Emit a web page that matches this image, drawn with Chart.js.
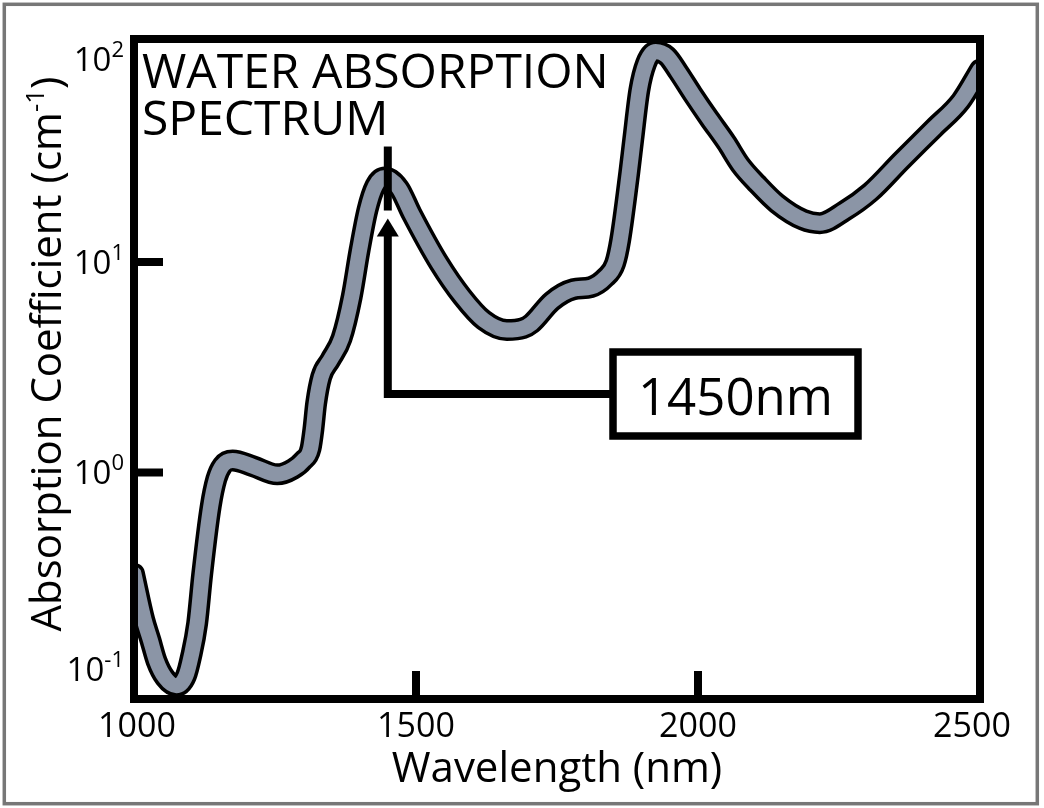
<!DOCTYPE html>
<html>
<head>
<meta charset="utf-8">
<script src="https://cdn.jsdelivr.net/npm/chart.js@4/dist/chart.umd.min.js"></script>
<style>
  html, body { margin: 0; padding: 0; background: #fff; }
  #wrap { width: 1044px; height: 808px; }
</style>
</head>
<body>
<div id="wrap"><canvas id="grafica" width="1044" height="808"></canvas></div>
<script>
// datos (nm, cm^-1)
const WAVELENGTH = [1000, 1018, 1029, 1040, 1055, 1075, 1092, 1101, 1112, 1121, 1136, 1146, 1157, 1175,
    1211, 1254, 1282, 1300, 1313, 1318, 1323, 1332, 1348, 1368, 1386, 1400, 1414, 1428, 1445, 1470,
    1492, 1541, 1582, 1620, 1661, 1690, 1705, 1741, 1779, 1810, 1835, 1853, 1862, 1878, 1885, 1896,
    1908, 1925, 1945, 1965, 1990, 2020, 2050, 2075, 2105, 2140, 2186, 2216, 2260, 2306, 2360, 2419, 2466, 2500];
const ABSORPTION = [0.33, 0.2, 0.16, 0.127, 0.106, 0.097, 0.108, 0.133, 0.192, 0.33, 0.69, 0.93, 1.08, 1.14,
    1.07, 0.98, 1.04, 1.14, 1.30, 1.6, 2.13, 2.85, 3.42, 4.34, 6.84, 11.4, 17.7, 23, 25.2, 22.4,
    17.0, 9.86, 6.84, 5.3, 4.75, 4.85, 5.11, 6.51, 7.42, 7.6, 8.4, 9.86, 12.7, 26.4, 38, 65.6,
    88, 100, 95, 80, 63, 48, 37, 29, 23.5, 19, 15.9, 15.3, 17.5, 21.5, 30.2, 43.4, 58.2, 82];

const X_TICKS = [1000, 1500, 2000, 2500];
const Y_TICK_EXP = [-1, 0, 1, 2];
const PEAK_NM = 1450;
const PEAK_VALUE = 25.2;

const TITLE_LINES = ['WATER ABSORPTION', 'SPECTRUM'];
const X_TITLE = 'Wavelength (nm)';

const FONT = '"Open Sans", "Noto Sans", sans-serif';
const GRIS = 'rgb(139,149,166)';

var puntos = WAVELENGTH.map((w, i) => ({ x: w, y: ABSORPTION[i] }));

// texto con exponente: partes [texto, esSuper]
function anchoPartes(ctx, partes, tam, tamSup) {
    var total = 0;
    partes.forEach(p => {
        ctx.font = (p[1] ? tamSup : tam) + 'px ' + FONT;
        total += ctx.measureText(p[0]).width;
    });
    return total;
}

function dibujarPartes(ctx, partes, x, y, tam, tamSup, subida) {
    var cx = x;
    ctx.textAlign = 'left';
    ctx.textBaseline = 'alphabetic';
    partes.forEach(p => {
        ctx.font = (p[1] ? tamSup : tam) + 'px ' + FONT;
        ctx.fillText(p[0], cx, p[1] ? y - subida : y);
        cx += ctx.measureText(p[0]).width;
    });
}

const marco = {
    id: 'marco',
    beforeDraw(chart) {
        var ctx = chart.ctx;
        ctx.save();
        ctx.fillStyle = '#fff';
        ctx.fillRect(0, 0, chart.width, chart.height);
        ctx.strokeStyle = '#777';
        ctx.lineWidth = 3.5;
        ctx.strokeRect(4.3, 4.3, chart.width - 11, chart.height - 8.6);
        ctx.restore();
    },
    afterDatasetsDraw(chart) {
        var ctx = chart.ctx;
        var a = chart.chartArea;
        var xs = chart.scales.x, ys = chart.scales.y;
        ctx.save();
        ctx.fillStyle = '#000';
        ctx.strokeStyle = '#000';

        // marco del area
        ctx.lineWidth = 8;
        ctx.strokeRect(a.left, a.top, a.right - a.left, a.bottom - a.top);

        // marcas internas (solo las que no caen en las esquinas)
        ctx.beginPath();
        X_TICKS.forEach(v => {
            var px = xs.getPixelForValue(v);
            if (px > a.left + 30 && px < a.right - 30) {
                ctx.moveTo(px, a.bottom);
                ctx.lineTo(px, a.bottom - 28);
            }
        });
        Y_TICK_EXP.forEach(e => {
            var py = ys.getPixelForValue(Math.pow(10, e));
            if (py > a.top + 30 && py < a.bottom - 30) {
                ctx.moveTo(a.left, py);
                ctx.lineTo(a.left + 29, py);
            }
        });
        ctx.stroke();

        // etiquetas eje x
        ctx.font = '34px ' + FONT;
        ctx.textAlign = 'center';
        ctx.textBaseline = 'alphabetic';
        X_TICKS.forEach(v => {
            var px = Math.min(Math.max(xs.getPixelForValue(v), a.left + 3), a.right - 8);
            ctx.fillText(String(v), px, a.bottom + 38);
        });

        // etiquetas eje y (10^n)
        Y_TICK_EXP.forEach(e => {
            var py = Math.min(Math.max(ys.getPixelForValue(Math.pow(10, e)), a.top + 20), a.bottom - 30);
            var partes = [['10', false], [String(e), true]];
            var w = anchoPartes(ctx, partes, 33, 22);
            dibujarPartes(ctx, partes, a.left - 10 - w, py + 12, 33, 22, 14);
        });

        // titulo eje x
        ctx.font = '42px ' + FONT;
        ctx.textAlign = 'center';
        ctx.fillText(X_TITLE, (a.left + a.right) / 2, 782);

        // titulo eje y
        ctx.save();
        ctx.translate(61, 354);
        ctx.rotate(-Math.PI / 2);
        var partesY = [['Absorption Coefficient (cm', false], ['-1', true], [')', false]];
        var wy = anchoPartes(ctx, partesY, 42, 26);
        dibujarPartes(ctx, partesY, -wy / 2, 0, 42, 26, 17);
        ctx.restore();

        // titulo dentro del grafico
        ctx.font = '48px ' + FONT;
        ctx.textAlign = 'left';
        TITLE_LINES.forEach((t, i) => ctx.fillText(t, a.left + 8, 88 + i * 47));

        // anotacion del pico
        var xp = xs.getPixelForValue(PEAK_NM);
        var yp = ys.getPixelForValue(PEAK_VALUE);
        ctx.lineWidth = 8;
        ctx.beginPath();
        ctx.moveTo(xp, yp - 31);
        ctx.lineTo(xp, yp + 33);
        ctx.stroke();

        var caja = { x: 613, y: 352, w: 245, h: 84 };
        var yLinea = caja.y + caja.h / 2;
        ctx.beginPath();
        ctx.moveTo(caja.x, yLinea);
        ctx.lineTo(xp, yLinea);
        ctx.lineTo(xp, yp + 58);
        ctx.stroke();
        ctx.beginPath();
        ctx.moveTo(xp, yp + 41);
        ctx.lineTo(xp + 11, yp + 59);
        ctx.lineTo(xp - 11, yp + 59);
        ctx.closePath();
        ctx.fill();

        ctx.lineWidth = 7.5;
        ctx.fillStyle = '#fff';
        ctx.fillRect(caja.x, caja.y, caja.w, caja.h);
        ctx.strokeRect(caja.x, caja.y, caja.w, caja.h);
        ctx.fillStyle = '#000';
        ctx.font = '51px ' + FONT;
        ctx.textAlign = 'center';
        ctx.fillText(PEAK_NM + 'nm', caja.x + caja.w / 2, caja.y + 63);

        ctx.restore();
    }
};

var ctx = document.getElementById('grafica').getContext('2d');
var grafica = new Chart(ctx, {
    type: 'line',
    data: {
        datasets: [{
            // relleno gris (va encima)
            data: puntos,
            borderColor: GRIS,
            borderWidth: 15,
            borderJoinStyle: 'round',
            borderCapStyle: 'round',
            pointRadius: 0,
            cubicInterpolationMode: 'monotone',
            fill: false
        }, {
            // contorno negro
            data: puntos,
            borderColor: '#000',
            borderWidth: 22,
            borderJoinStyle: 'round',
            borderCapStyle: 'round',
            pointRadius: 0,
            cubicInterpolationMode: 'monotone',
            fill: false
        }]
    },
    options: {
        responsive: false,
        animation: false,
        devicePixelRatio: 1,
        layout: { padding: { left: 134, right: 64, top: 39, bottom: 109 } },
        plugins: {
            legend: { display: false },
            tooltip: { enabled: false }
        },
        scales: {
            x: { type: 'linear', min: 1000, max: 2500, display: false },
            y: { type: 'logarithmic', min: 0.0839, max: 114.7, display: false }
        }
    },
    plugins: [marco]
});
</script>
</body>
</html>
